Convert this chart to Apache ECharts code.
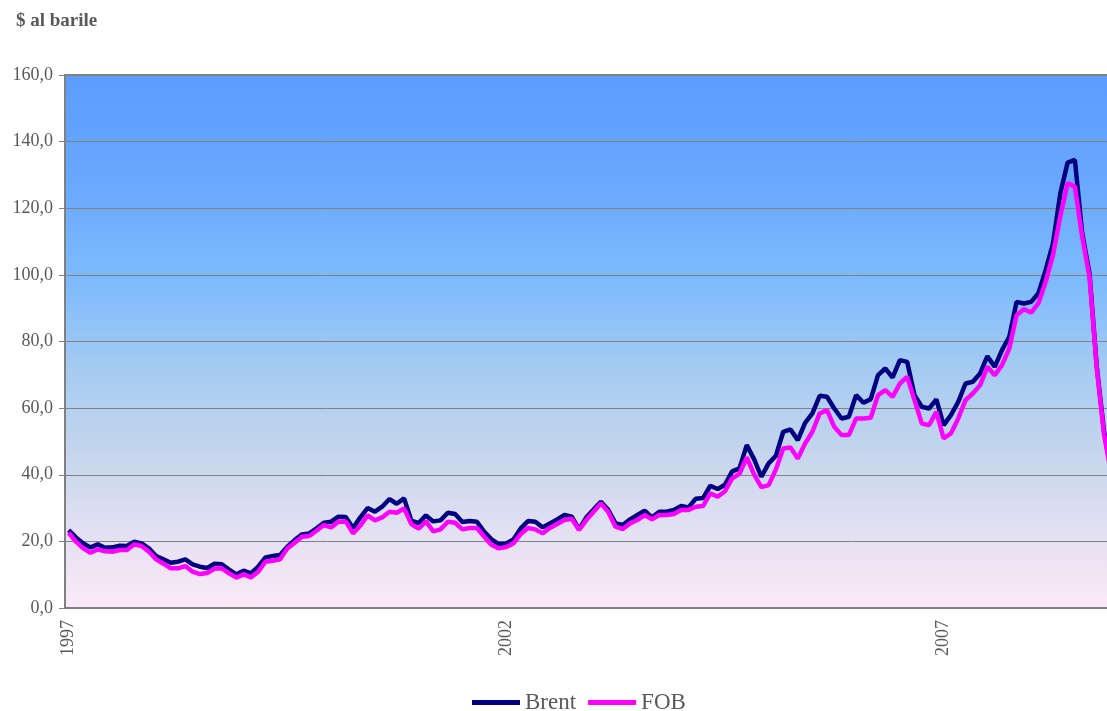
<!DOCTYPE html>
<html>
<head>
<meta charset="utf-8">
<script src="https://cdn.jsdelivr.net/npm/echarts@6/dist/echarts.min.js"></script>
<style>
html,body{margin:0;padding:0;background:#fff;overflow:hidden;width:1107px;height:711px;}
#chart{width:1115px;height:711px;}
</style>
</head>
<body>
<div id="chart"></div>
<script>
// Monthly categories Jan 1997 - Dec 2008
const years = [1997,1998,1999,2000,2001,2002,2003,2004,2005,2006,2007,2008];
const months = ['01','02','03','04','05','06','07','08','09','10','11','12'];
const categories = [];
years.forEach(y => months.forEach(m => categories.push(y + '-' + m)));

const yAxisTicks = [0,20,40,60,80,100,120,140,160];
const seriesNames = ['Brent','FOB'];

const brent = [
  23.4, 21.2, 19.4, 18.2, 19.1, 18.1, 18.2, 18.7, 18.6, 19.9, 19.4, 17.9,
  15.6, 14.6, 13.6, 13.9, 14.6, 13.1, 12.4, 12.0, 13.3, 13.1, 11.5, 10.1,
  11.2, 10.4, 12.4, 15.2, 15.6, 15.9, 18.4, 20.4, 22.1, 22.4, 23.9, 25.6,
  25.9, 27.4, 27.3, 24.0, 27.2, 30.0, 28.9, 30.4, 32.7, 31.3, 32.9, 26.2,
  25.5, 27.8, 26.0, 26.3, 28.6, 28.2, 25.8, 26.1, 25.9, 22.9, 20.6, 19.2,
  19.4, 20.6, 23.9, 26.1, 25.9, 24.2, 25.4, 26.6, 27.9, 27.4, 23.6, 27.2,
  29.6, 31.9, 29.5, 25.4, 24.9, 26.6, 27.9, 29.2, 27.2, 28.9, 28.9, 29.4,
  30.6, 30.2, 32.8, 33.0, 36.7, 35.7, 37.0, 41.0, 41.9, 48.9, 44.7, 39.4,
  43.4, 45.7, 52.9, 53.6, 50.4, 55.6, 58.4, 63.7, 63.4, 59.9, 56.9, 57.4,
  63.9, 61.6, 62.7, 69.9, 71.9, 69.2, 74.4, 73.9, 63.9, 60.4, 59.9, 62.6,
  54.9, 57.9, 61.9, 67.4, 67.9, 70.4, 75.6, 72.4, 77.4, 81.4, 91.9, 91.4,
  91.9, 94.5, 101.5, 109.5, 124.5, 133.7, 134.5, 112.5, 100.5, 72.5, 53.0, 41.0
];

const fob = [
  22.6, 19.9, 17.9, 16.6, 17.6, 17.0, 16.9, 17.4, 17.4, 19.1, 18.6, 16.9,
  14.6, 13.3, 11.9, 11.9, 12.6, 10.9, 10.2, 10.5, 11.8, 11.9, 10.4, 9.1,
  10.1, 9.2, 10.9, 13.9, 14.2, 14.6, 17.9, 19.6, 21.4, 21.6, 23.2, 24.9,
  24.2, 25.9, 26.0, 22.4, 24.7, 27.8, 26.3, 27.2, 28.9, 28.6, 29.9, 25.2,
  23.8, 26.0, 23.0, 23.6, 25.9, 25.6, 23.6, 24.0, 24.0, 21.4, 18.9, 17.9,
  18.3, 19.4, 22.2, 24.0, 23.6, 22.4, 24.0, 25.2, 26.4, 26.8, 23.4, 26.4,
  28.9, 31.4, 28.8, 24.4, 23.7, 25.4, 26.4, 27.9, 26.6, 27.9, 27.9, 28.2,
  29.4, 29.4, 30.4, 30.6, 34.4, 33.4, 35.0, 38.9, 40.3, 45.2, 40.1, 36.3,
  36.9, 41.6, 47.9, 48.2, 44.9, 49.4, 52.9, 58.4, 59.4, 54.4, 51.9, 51.9,
  56.9, 56.9, 57.1, 63.9, 65.4, 63.4, 67.4, 69.4, 62.4, 55.4, 54.9, 58.9,
  50.9, 52.4, 56.9, 62.4, 64.4, 66.9, 72.4, 69.9, 72.9, 77.9, 87.9, 89.7,
  88.7, 91.5, 98.0, 106.0, 117.6, 127.5, 126.5, 111.5, 99.5, 72.0, 52.0, 40.0
];

const FONT = '"Liberation Serif", "DejaVu Serif", serif';
const TXT = '#595959';

const chart = echarts.init(document.getElementById('chart'), null, {renderer: 'canvas'});
chart.setOption({
  animation: false,
  backgroundColor: '#ffffff',
  title: {
    text: '$ al barile',
    left: 11, top: 7,
    textStyle: {fontFamily: FONT, fontSize: 19, fontWeight: 'bold', color: TXT}
  },
  legend: {
    data: seriesNames,
    left: 467, top: 686,
    icon: 'rect',
    itemWidth: 48, itemHeight: 5,
    itemGap: 12,
    textStyle: {fontFamily: FONT, fontSize: 23, color: TXT}
  },
  grid: {
    left: 65, top: 75, bottom: 103, right: 0,
    show: true,
    borderColor: '#808080', borderWidth: 2,
    backgroundColor: new echarts.graphic.LinearGradient(0, 0, 0, 1, [
      {offset: 0, color: '#5c9cff'},
      {offset: 0.2, color: '#68a8ff'},
      {offset: 0.4, color: '#80bcfb'},
      {offset: 0.55, color: '#a5cbf2'},
      {offset: 0.7, color: '#c3d5ec'},
      {offset: 0.85, color: '#e2e0f2'},
      {offset: 1, color: '#fce9f7'}
    ])
  },
  xAxis: {
    type: 'category',
    data: categories,
    boundaryGap: true,
    axisLine: {show: true, lineStyle: {color: '#808080', width: 2}},
    axisTick: {show: false},
    axisLabel: {
      interval: 59,
      rotate: 90,
      margin: 12,
      fontFamily: FONT, fontSize: 18, color: TXT,
      formatter: v => v.slice(0, 4)
    },
    splitLine: {show: false}
  },
  yAxis: {
    type: 'value',
    min: yAxisTicks[0], max: yAxisTicks[yAxisTicks.length - 1], interval: 20,
    axisLine: {show: true, lineStyle: {color: '#808080', width: 2}},
    axisTick: {show: true, length: 6, lineStyle: {color: '#808080', width: 1}},
    axisLabel: {
      margin: 12,
      fontFamily: FONT, fontSize: 18, color: TXT,
      formatter: v => v.toFixed(1).replace('.', ',')
    },
    splitLine: {show: true, lineStyle: {color: '#808080', width: 1}}
  },
  series: [
    {
      name: seriesNames[0], type: 'line', data: brent,
      showSymbol: false, symbol: 'none',
      lineStyle: {color: '#000080', width: 4.5},
      itemStyle: {color: '#000080'}
    },
    {
      name: seriesNames[1], type: 'line', data: fob,
      showSymbol: false, symbol: 'none',
      lineStyle: {color: '#ff00ff', width: 4.5},
      itemStyle: {color: '#ff00ff'}
    }
  ]
});
</script>
</body>
</html>
